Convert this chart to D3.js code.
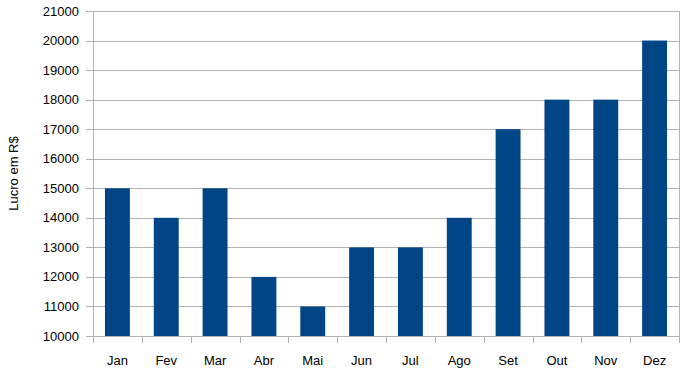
<!DOCTYPE html>
<html>
<head>
<meta charset="UTF-8">
<style>
    body { margin: 0; background: #fff; }
    text { font-family: "Liberation Sans", Arial, sans-serif; font-size: 13px; fill: #000; }
</style>
</head>
<body>
<svg></svg>
<script src="https://d3js.org/d3.v7.min.js"></script>
<script>
    // data
    const months = ["Jan", "Fev", "Mar", "Abr", "Mai", "Jun", "Jul", "Ago", "Set", "Out", "Nov", "Dez"];
    const lucro = [15000, 14000, 15000, 12000, 11000, 13000, 13000, 14000, 17000, 18000, 18000, 20000];
    const yTicks = d3.range(10000, 21001, 1000);

    let width = 687, height = 373;
    let margin = { top: 11, right: 8, bottom: 37, left: 93 };

    let svg = d3.select("svg")
        .attr("width", width)
        .attr("height", height);

    let x = d3.scaleBand()
        .domain(months)
        .range([margin.left, width - margin.right])
        .paddingInner(0.49)
        .paddingOuter(0.245);

    let xb = d3.scaleBand()
        .domain(months)
        .range([margin.left, width - margin.right]);

    let y = d3.scaleLinear()
        .domain([10000, 21000])
        .range([height - margin.bottom, margin.top]);

    // gridlines
    svg.append("g")
        .selectAll("line")
        .data(yTicks)
        .join("line")
        .attr("x1", margin.left - 7)
        .attr("x2", width - margin.right)
        .attr("y1", d => Math.round(y(d)) + 0.5)
        .attr("y2", d => Math.round(y(d)) + 0.5)
        .attr("stroke", "#b3b3b3");

    // vertical axis lines
    svg.append("line")
        .attr("x1", margin.left + 0.5).attr("x2", margin.left + 0.5)
        .attr("y1", margin.top).attr("y2", height - margin.bottom + 7)
        .attr("stroke", "#b3b3b3");
    svg.append("line")
        .attr("x1", width - margin.right + 0.5).attr("x2", width - margin.right + 0.5)
        .attr("y1", margin.top).attr("y2", height - margin.bottom + 7)
        .attr("stroke", "#b3b3b3");

    // category ticks
    svg.append("g")
        .selectAll("line")
        .data(months.slice(1))
        .join("line")
        .attr("x1", d => Math.round(xb(d)) + 0.5)
        .attr("x2", d => Math.round(xb(d)) + 0.5)
        .attr("y1", height - margin.bottom)
        .attr("y2", height - margin.bottom + 7)
        .attr("stroke", "#b3b3b3");

    // bars
    svg.append("g")
        .selectAll("rect")
        .data(lucro)
        .join("rect")
        .attr("x", (d, i) => x(months[i]))
        .attr("width", x.bandwidth())
        .attr("y", d => y(d))
        .attr("height", d => y(10000) - y(d))
        .attr("fill", "#004586");

    // y tick labels
    svg.append("g")
        .selectAll("text")
        .data(yTicks)
        .join("text")
        .attr("x", 79)
        .attr("y", d => y(d))
        .attr("dy", "0.35em")
        .attr("text-anchor", "end")
        .text(d => d);

    // x labels
    svg.append("g")
        .selectAll("text")
        .data(months)
        .join("text")
        .attr("x", d => xb(d) + xb.bandwidth() / 2)
        .attr("y", 365)
        .attr("text-anchor", "middle")
        .text(d => d);

    // axis title
    svg.append("text")
        .attr("transform", "translate(18," + ((margin.top + height - margin.bottom) / 2) + ") rotate(-90)")
        .attr("text-anchor", "middle")
        .text("Lucro em R$");
</script>
</body>
</html>
